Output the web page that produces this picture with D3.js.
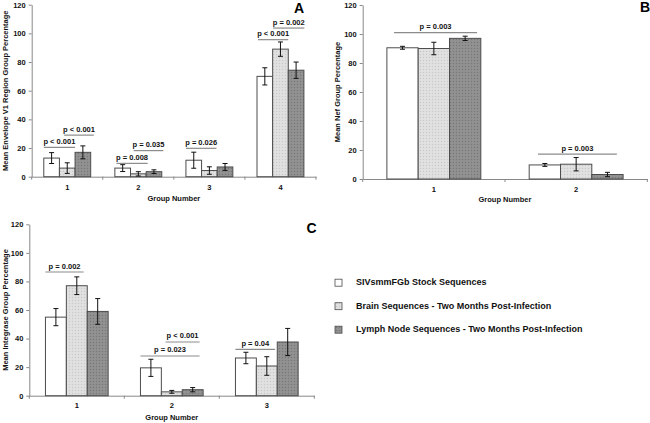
<!DOCTYPE html>
<html><head><meta charset="utf-8">
<script src="https://cdn.jsdelivr.net/npm/d3@7"></script>
<style>
html,body{margin:0;padding:0;background:#fff;}
svg{display:block;font-family:"Liberation Sans",Arial,sans-serif;}
</style></head>
<body>
<svg id="chart" width="650" height="423"></svg>
<script>
// ---------- DATA ----------
const seriesNames = ["SIVsmmFGb Stock Sequences", "Brain Sequences - Two Months Post-Infection", "Lymph Node Sequences - Two Months Post-Infection"];
const yTicks = [0, 20, 40, 60, 80, 100, 120];

// Panel A: Envelope V1
const groupsA = ["1", "2", "3", "4"];
const stockA = [13, 6, 11.5, 70];
const brainA = [6, 2, 4.3, 89];
const lymphA = [17, 3.5, 6.8, 74.3];
const stockErrA = [3.8, 2.4, 5.6, 6];
const brainErrA = [3.7, 1.5, 2.6, 5];
const lymphErrA = [4.5, 1.3, 2.4, 5.7];
const pA = [
  {g: 0, from: 0, to: 2, level: 20.5, text: "p < 0.001"},
  {g: 0, from: 1.3, to: 3.2, level: 29, text: "p < 0.001"},
  {g: 1, from: 0.1, to: 2.1, level: 9.3, text: "p = 0.008"},
  {g: 1, from: 1.2, to: 3.1, level: 18.2, text: "p = 0.035"},
  {g: 2, from: 0, to: 1.95, level: 19.8, text: "p = 0.026"},
  {g: 3, from: 0.06, to: 2.0, level: 95.6, text: "p < 0.001"},
  {g: 3, from: 1.03, to: 3.03, level: 103.7, text: "p = 0.002"}
];

// Panel B: Nef
const groupsB = ["1", "2"];
const stockB = [90.5, 9.7];
const brainB = [90, 10.2];
const lymphB = [97, 3.1];
const stockErrB = [1, 1];
const brainErrB = [4.3, 4.6];
const lymphErrB = [1.5, 1.5];
const pB = [
  {g: 0, from: 0.23, to: 2.88, level: 101, text: "p = 0.003"},
  {g: 1, from: 0.28, to: 2.8, level: 17.2, text: "p = 0.003"}
];

// Panel C: Integrase
const groupsC = ["1", "2", "3"];
const stockC = [55, 19.5, 26.4];
const brainC = [77, 2.7, 20.8];
const lymphC = [59, 4.2, 37.6];
const stockErrC = [6, 6, 4];
const brainErrC = [6.2, 1, 6.5];
const lymphErrC = [9, 1.5, 9.5];
const pC = [
  {g: 0, from: 0, to: 1.83, level: 86.6, text: "p = 0.002"},
  {g: 1, from: 1.2, to: 2.83, level: 37.6, text: "p < 0.001"},
  {g: 1, from: 0, to: 2.83, level: 27.8, text: "p = 0.023"},
  {g: 2, from: 0, to: 1.9, level: 32.5, text: "p = 0.04"}
];

// ---------- LAYOUT / STYLE ----------
const FONT = 7.5;
const fills = ["#ffffff", "url(#patLight)", "url(#patDark)"];
const panels = [
  {letter: "A", groups: groupsA, vals: [stockA, brainA, lymphA], errs: [stockErrA, brainErrA, lymphErrA], ann: pA,
   yLabel: "Mean Envelope V1 Region Group Percentage",
   x0: 31.7, x1: 316, yTop: 4.7, yBot: 176.7, yLabX: 7.5, letterPos: [299, 12.5], tickDy: 11.5, titleDy: 22.5},
  {letter: "B", groups: groupsB, vals: [stockB, brainB, lymphB], errs: [stockErrB, brainErrB, lymphErrB], ann: pB,
   yLabel: "Mean Nef Group Percentage",
   x0: 362.7, x1: 647.3, yTop: 5, yBot: 179, yLabX: 339.5, letterPos: [645, 12], tickDy: 11.5, titleDy: 21},
  {letter: "C", groups: groupsC, vals: [stockC, brainC, lymphC], errs: [stockErrC, brainErrC, lymphErrC], ann: pC,
   yLabel: "Mean Integrase Group Percentage",
   x0: 29.3, x1: 314.3, yTop: 224.3, yBot: 395.7, yLabX: 7.5, letterPos: [311.5, 232.5], tickDy: 10.5, titleDy: 22}
];

const svg = d3.select("#chart");
const defs = svg.append("defs");
function makePattern(id, base, dot, light) {
  const p = defs.append("pattern").attr("id", id).attr("width", 3).attr("height", 3)
    .attr("patternUnits", "userSpaceOnUse");
  p.append("rect").attr("width", 3).attr("height", 3).attr("fill", base);
  p.append("rect").attr("width", 1).attr("height", 1).attr("fill", dot);
  p.append("rect").attr("x", 1.5).attr("y", 1.5).attr("width", 1).attr("height", 1).attr("fill", light);
}
makePattern("patLight", "#dedede", "#c9c9c9", "#ececec");
makePattern("patDark", "#8e8e8e", "#777777", "#9d9d9d");

panels.forEach(P => {
  const g = svg.append("g");
  const x = d3.scaleBand().domain(P.groups).range([P.x0, P.x1]).paddingInner(0).paddingOuter(0);
  const bw = x.bandwidth();
  const inner = d3.scaleBand().domain(d3.range(3)).range([bw * 0.17, bw * 0.83]).padding(0);
  const barW = inner.bandwidth();
  const y = d3.scaleLinear().domain([0, 120]).range([P.yBot, P.yTop]);

  // Y axis
  const ya = g.append("g").attr("transform", `translate(${P.x0},0)`)
    .call(d3.axisLeft(y).tickValues(yTicks).tickSize(3).tickPadding(3).tickSizeOuter(0));
  ya.select(".domain").attr("stroke", "#888");
  ya.selectAll(".tick line").attr("stroke", "#888");
  ya.selectAll("text").attr("font-size", FONT).attr("font-weight", "bold").attr("fill", "#111")
    .attr("font-family", "Liberation Sans, Arial, sans-serif");

  // X axis
  const xa = g.append("g").attr("transform", `translate(0,${P.yBot})`)
    .call(d3.axisBottom(x).tickSize(0).tickPadding(0).tickSizeOuter(0));
  xa.select(".domain").attr("stroke", "#888");
  xa.selectAll("text").attr("font-size", FONT).attr("font-weight", "bold").attr("fill", "#111")
    .attr("font-family", "Liberation Sans, Arial, sans-serif")
    .attr("dy", null).attr("y", P.tickDy).attr("dominant-baseline", "middle");
  // boundary ticks
  const bounds = P.groups.map(d => x(d)).concat([x(P.groups[P.groups.length - 1]) + bw]);
  g.selectAll(".bt").data(bounds).join("line")
    .attr("x1", d => d).attr("x2", d => d).attr("y1", P.yBot).attr("y2", P.yBot + 3)
    .attr("stroke", "#888");

  // bars
  P.groups.forEach((grp, gi) => {
    for (let s = 0; s < 3; s++) {
      const v = P.vals[s][gi];
      const bx = x(grp) + inner(s);
      g.append("rect").attr("x", bx).attr("y", y(v)).attr("width", barW).attr("height", y(0) - y(v))
        .attr("fill", fills[s]).attr("stroke", "#4d4d4d").attr("stroke-width", 1);
    }
  });
  // error bars
  P.groups.forEach((grp, gi) => {
    for (let s = 0; s < 3; s++) {
      const v = P.vals[s][gi], e = P.errs[s][gi];
      const cx = x(grp) + inner(s) + barW / 2;
      const eg = g.append("g").attr("stroke", "#111").attr("stroke-width", 1);
      eg.append("line").attr("x1", cx).attr("x2", cx).attr("y1", y(v + e)).attr("y2", y(Math.max(0, v - e)));
      [v + e, Math.max(0, v - e)].forEach(t => {
        eg.append("line").attr("x1", cx - 2.5).attr("x2", cx + 2.5).attr("y1", y(t)).attr("y2", y(t));
      });
    }
  });
  // p-value annotations
  P.ann.forEach(a => {
    const start = x(P.groups[a.g]) + inner(0);
    const xa1 = start + a.from * barW, xa2 = start + a.to * barW;
    g.append("line").attr("x1", xa1).attr("x2", xa2).attr("y1", y(a.level)).attr("y2", y(a.level))
      .attr("stroke", "#8c8c8c").attr("stroke-width", 1.2);
    g.append("text").attr("x", (xa1 + xa2) / 2).attr("y", y(a.level) - 3.5)
      .attr("text-anchor", "middle").attr("font-size", FONT).attr("font-weight", "bold").attr("fill", "#111")
      .text(a.text);
  });

  // axis titles
  g.append("text").attr("x", (P.x0 + P.x1) / 2).attr("y", P.yBot + P.titleDy)
    .attr("text-anchor", "middle").attr("dominant-baseline", "middle")
    .attr("font-size", FONT).attr("font-weight", "bold").attr("fill", "#111").text("Group Number");
  g.append("text").attr("transform", `translate(${P.yLabX},${(P.yTop + P.yBot) / 2}) rotate(-90)`)
    .attr("text-anchor", "middle").attr("font-size", FONT).attr("font-weight", "bold").attr("fill", "#111")
    .text(P.yLabel);
  // panel letter
  g.append("text").attr("x", P.letterPos[0]).attr("y", P.letterPos[1]).attr("text-anchor", "middle")
    .attr("font-size", 14).attr("font-weight", "bold").attr("fill", "#000").text(P.letter);
});

// legend
const lg = svg.append("g");
const legY = d3.scalePoint().domain(seriesNames).range([282.7, 329.7]);
seriesNames.forEach((n, i) => {
  lg.append("rect").attr("x", 335).attr("y", legY(n) - 3.5).attr("width", 7).attr("height", 7)
    .attr("fill", fills[i]).attr("stroke", "#4d4d4d").attr("stroke-width", 0.8);
  lg.append("text").attr("x", 356).attr("y", legY(n)).attr("dominant-baseline", "middle")
    .attr("font-size", 9).attr("font-weight", "bold").attr("fill", "#111").text(n);
});
</script>
</body></html>
